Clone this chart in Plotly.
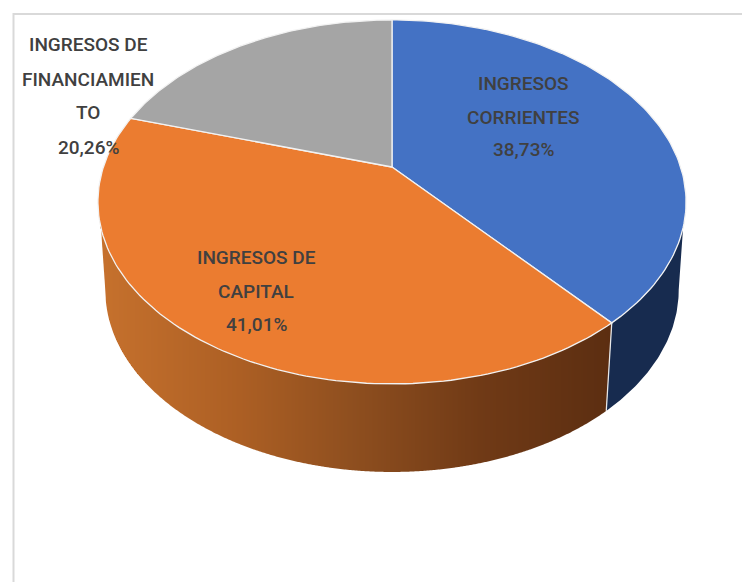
import numpy as np
import plotly.graph_objects as go

labels = ["INGRESOS CORRIENTES", "INGRESOS DE CAPITAL", "INGRESOS DE FINANCIAMIENTO"]
values = [38.73, 41.01, 20.26]
top_colors = ["#4472C4", "#EB7C30", "#A5A5A5"]
label_lines = [["INGRESOS", "CORRIENTES", "38,73%"],
               ["INGRESOS DE", "CAPITAL", "41,01%"],
               ["INGRESOS DE", "FINANCIAMIEN", "TO", "20,26%"]]
label_x = [523, 256, 88]
label_y = [[83, 117, 149], [257, 291, 324], [44, 79, 112, 147]]

# projection of the tilted disc into pixel space
CX, CY, A, B, K = 392, 167, 288.6, 175.3, 0.192
DEPTH, SHRINK = 88, 0.975
WALL_TOP = np.radians(109)   # where the wall leaves the top rim
WALL_LOW = np.radians(101)   # where the wall's lower outline meets the side


def rim(theta):
    u, v = np.sin(theta), np.cos(theta)
    w = 1 + K * v
    return CX + A * u / w, CY - B * v / w


def rim_low(theta):
    x, y = rim(theta)
    return CX + SHRINK * (x - CX), y + DEPTH


def mix(stops, t):
    xs = [s[0] for s in stops]
    chans = [np.interp(t, xs, [s[1][i] for s in stops]) for i in range(3)]
    return "rgb(%d,%d,%d)" % tuple(int(round(c)) for c in chans)


ORANGE_STOPS = [(100, (198, 113, 45)), (240, (172, 95, 36)), (350, (143, 79, 31)),
                (480, (112, 58, 22)), (610, (92, 46, 17))]

fig = go.Figure()
edges = np.cumsum([0] + values) / 100 * 2 * np.pi


def poly(xs, ys, fill, line_color=None, width=0):
    fig.add_trace(go.Scatter(
        x=list(xs) + [xs[0]], y=list(ys) + [ys[0]], mode="lines", fill="toself",
        fillcolor=fill, line=dict(color=line_color or fill, width=width),
        hoverinfo="skip", showlegend=False))


# seam between the side wall colours
sx0, sy0 = rim(edges[1])
sx1, sy1 = rim_low(edges[1])

# side wall: orange part, shaded in one-pixel vertical strips
up_t = np.linspace(edges[1], 2 * np.pi - WALL_TOP, 200)
lo_t = np.linspace(edges[1], 2 * np.pi - WALL_LOW, 200)
up_x, up_y = rim(up_t)
lo_x, lo_y = rim_low(lo_t)
lo_x = np.r_[sx0, lo_x, up_x[-1]]
lo_y = np.r_[sy0, lo_y, up_y[-1]]
for px in range(int(np.floor(up_x[-1])), int(np.ceil(up_x[0]))):
    edge = np.array([px, px + 1.0])
    t_y = np.interp(edge, up_x[::-1], up_y[::-1]) - 3
    b_y = np.interp(edge, lo_x[::-1], lo_y[::-1])
    poly([edge[0], edge[1], edge[1], edge[0]], [t_y[0], t_y[1], b_y[1], b_y[0]],
         mix(ORANGE_STOPS, px + 0.5))

# side wall: blue part (from the right edge to the seam)
bu_t = np.linspace(WALL_TOP, edges[1], 60)
bl_t = np.linspace(edges[1], WALL_LOW, 60)
bx1, by1 = rim(bu_t)
bx2, by2 = rim_low(bl_t)
poly(np.r_[bx1, bx2], np.r_[by1, by2], "#172B4F")

fig.add_trace(go.Scatter(x=[sx0, sx1], y=[sy0, sy1], mode="lines",
                         line=dict(color="#E8E8E8", width=1.2),
                         hoverinfo="skip", showlegend=False))

# top face wedges
for i, col in enumerate(top_colors):
    t = np.linspace(edges[i], edges[i + 1], 120)
    x, y = rim(t)
    poly(np.r_[CX, x], np.r_[CY, y], col, "#F2F2F2", 1.3)

annotations = []
for lines, lx, lys in zip(label_lines, label_x, label_y):
    for text, ly in zip(lines, lys):
        annotations.append(dict(
            x=lx, y=ly, text=text, showarrow=False, xanchor="center", yanchor="middle",
            font=dict(family="Roboto", size=19, color="#404040", weight=500)))

fig.update_layout(
    width=742, height=582, margin=dict(l=0, r=0, t=0, b=0),
    paper_bgcolor="white", plot_bgcolor="white", showlegend=False,
    xaxis=dict(range=[0, 742], visible=False, fixedrange=True),
    yaxis=dict(range=[582, 0], visible=False, fixedrange=True),
    annotations=annotations,
    shapes=[dict(type="rect", xref="x", yref="y", x0=13.5, y0=14, x1=760, y1=600,
                 line=dict(color="#D9D9D9", width=2), layer="below")],
)
fig.write_html("out.html", config={"displayModeBar": False},
               post_script="document.body.style.margin='0';")
